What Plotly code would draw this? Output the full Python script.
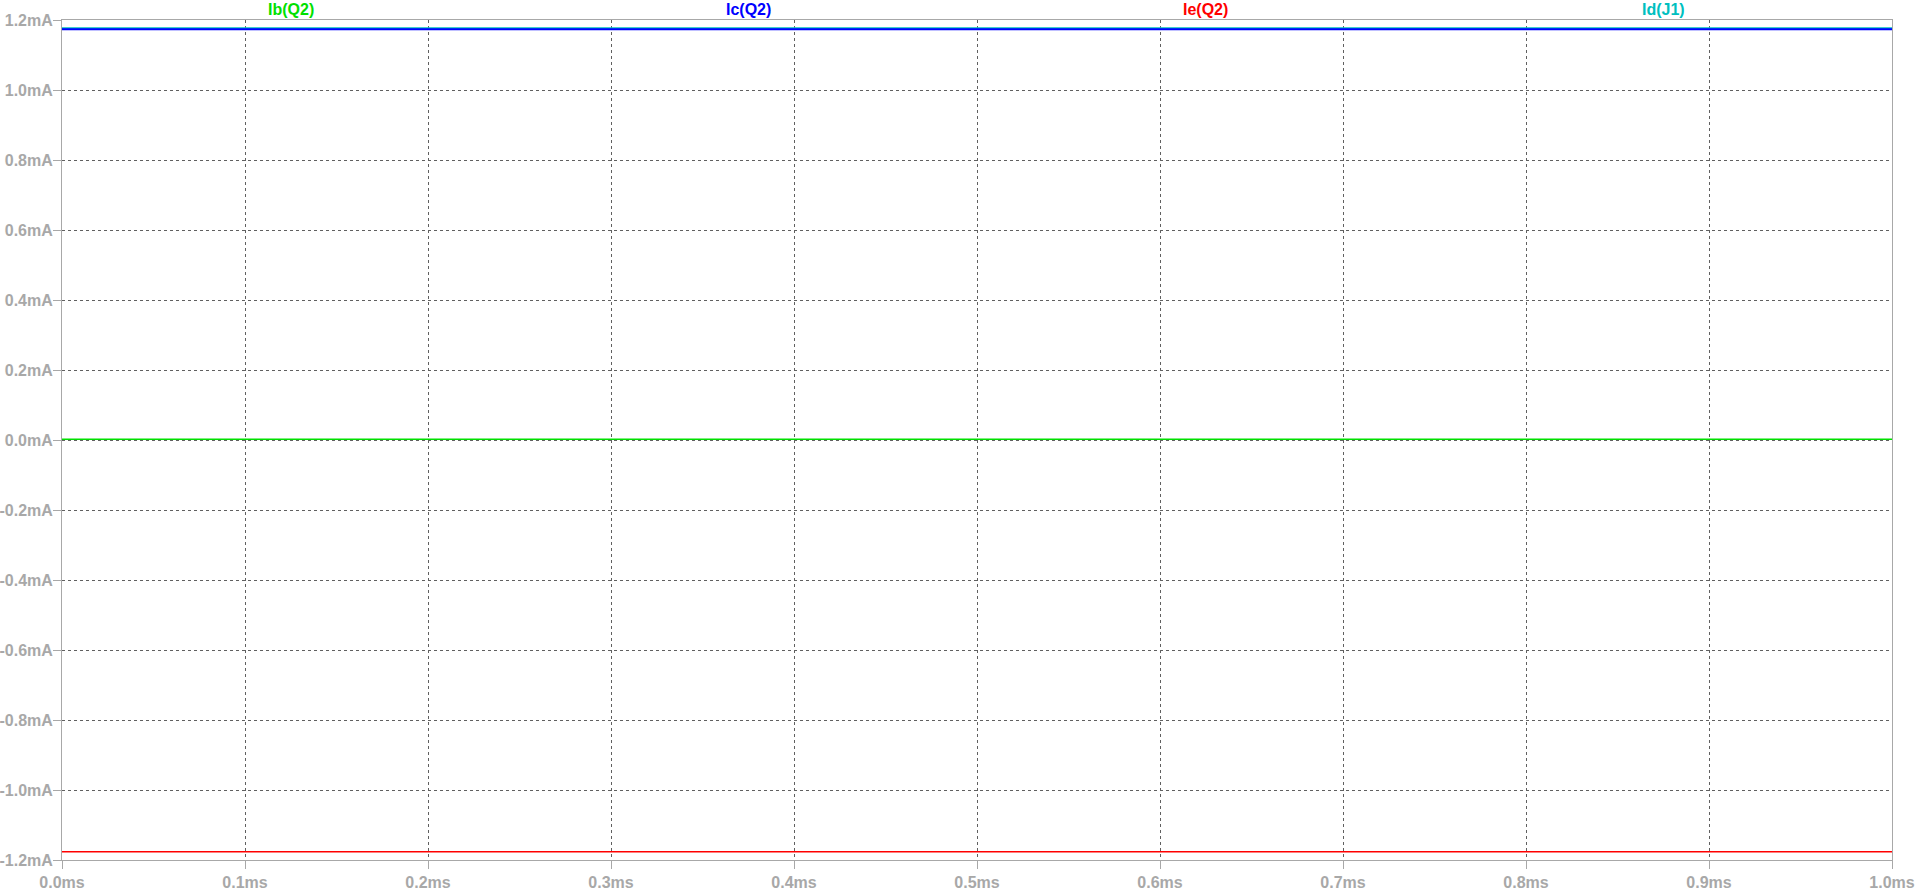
import plotly.graph_objects as go

# Data (time in ms, current in mA)
time_ms = [0.0, 1.0]
ib_q2 = [0.002, 0.002]
ic_q2 = [1.1735, 1.1735]
ie_q2 = [-1.1765, -1.1765]
id_j1 = [1.1765, 1.1765]

series_names = ["Ib(Q2)", "Ic(Q2)", "Ie(Q2)", "Id(J1)"]
series_values = [ib_q2, ic_q2, ie_q2, id_j1]
series_colors = ["#00e000", "#0000ff", "#ff0000", "#00bfbf"]

x_tickvals = [0.0, 0.1, 0.2, 0.3, 0.4, 0.5, 0.6, 0.7, 0.8, 0.9, 1.0]
x_ticktext = ["0.0ms", "0.1ms", "0.2ms", "0.3ms", "0.4ms", "0.5ms", "0.6ms", "0.7ms", "0.8ms", "0.9ms", "1.0ms"]
y_tickvals = [1.2, 1.0, 0.8, 0.6, 0.4, 0.2, 0.0, -0.2, -0.4, -0.6, -0.8, -1.0, -1.2]
y_ticktext = ["1.2mA", "1.0mA", "0.8mA", "0.6mA", "0.4mA", "0.2mA", "0.0mA", "-0.2mA", "-0.4mA",
              "-0.6mA", "-0.8mA", "-1.0mA", "-1.2mA"]

fig = go.Figure()
# draw order: Id first so others overlay
order = [3, 2, 0, 1]
for i in order:
    fig.add_trace(go.Scatter(x=time_ms, y=series_values[i], mode="lines", name=series_names[i],
                             line=dict(color=series_colors[i], width=2 if i in (1, 3) else 1.5),
                             showlegend=False, hoverinfo="skip"))

tick_font = dict(family="Liberation Sans, Arial, sans-serif", size=16, color="#a8a8a8", weight="bold")

fig.update_xaxes(range=[0.0, 1.0], tickvals=x_tickvals, ticktext=x_ticktext, tickfont=tick_font,
                 showgrid=True, gridcolor="#606060", griddash="3px,3px", gridwidth=1,
                 showline=True, linecolor="#a8a8a8", linewidth=1, mirror=True, automargin=False,
                 ticks="outside", ticklen=8, tickcolor="#a8a8a8", zeroline=False)
fig.update_yaxes(range=[-1.2, 1.2], tickvals=y_tickvals, ticktext=y_ticktext, tickfont=tick_font,
                 showgrid=True, gridcolor="#606060", griddash="3px,3px", gridwidth=1,
                 showline=True, linecolor="#a8a8a8", linewidth=1, mirror=True, automargin=False,
                 ticks="outside", ticklen=8, tickcolor="#a8a8a8", zeroline=False,
                 ticklabelstandoff=-3)

for k, name in enumerate(series_names):
    fig.add_annotation(x=0.125 + 0.25 * k, y=1.0, xref="paper", yref="paper", yshift=11,
                       xanchor="center", yanchor="middle",
                       text="<b>" + name + "</b>", showarrow=False,
                       font=dict(family="Liberation Sans, Arial, sans-serif", size=16,
                                 color=series_colors[k]))

fig.update_layout(width=1918, height=890, margin=dict(l=62, r=26, t=20, b=30),
                  paper_bgcolor="white", plot_bgcolor="white")

fig.write_html("out.html")
